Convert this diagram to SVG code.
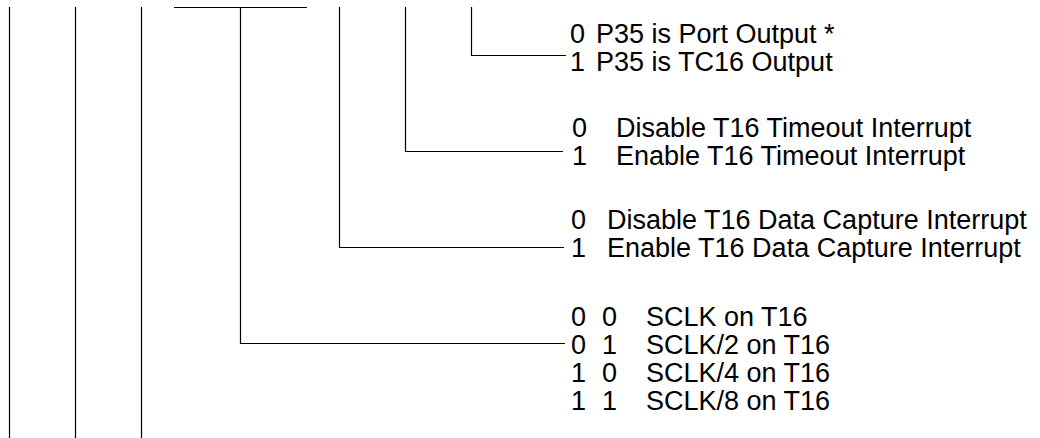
<svg xmlns="http://www.w3.org/2000/svg" width="1040" height="438" viewBox="0 0 1040 438">
<style>
.ln{stroke:#000;stroke-width:1.2;fill:none}
text{font-family:"Liberation Sans",Arial,sans-serif;font-size:27px;fill:#000}
</style>
<rect width="1040" height="438" fill="#fff"/>
<g id="connectors">
<line class="ln" x1="9.5" y1="7" x2="9.5" y2="438"/>
<line class="ln" x1="75.5" y1="7" x2="75.5" y2="438"/>
<line class="ln" x1="141.5" y1="7" x2="141.5" y2="438"/>
<line class="ln" x1="174" y1="7.5" x2="307" y2="7.5"/>
<polyline class="ln" points="240.5,7.5 240.5,343.5 565,343.5"/>
<polyline class="ln" points="339.5,7 339.5,247.5 564,247.5"/>
<polyline class="ln" points="405.5,7 405.5,151.5 563,151.5"/>
<polyline class="ln" points="471.5,7 471.5,55.5 566,55.5"/>
</g>
<g id="node-p35">
<text x="570" y="43">0</text><text x="596" y="43">P35 is Port Output *</text>
<text x="570" y="71">1</text><text x="596" y="71">P35 is TC16 Output</text>
</g>
<g id="node-timeout">
<text x="572" y="137">0</text><text x="616" y="137">Disable T16 Timeout Interrupt</text>
<text x="572" y="165">1</text><text x="616" y="165">Enable T16 Timeout Interrupt</text>
</g>
<g id="node-capture">
<text x="571" y="229">0</text><text x="607" y="229">Disable T16 Data Capture Interrupt</text>
<text x="571" y="257">1</text><text x="607" y="257">Enable T16 Data Capture Interrupt</text>
</g>
<g id="node-sclk">
<text x="571" y="326">0</text><text x="602" y="326">0</text><text x="646" y="326">SCLK on T16</text>
<text x="571" y="354">0</text><text x="602" y="354">1</text><text x="646" y="354">SCLK/2 on T16</text>
<text x="571" y="382">1</text><text x="602" y="382">0</text><text x="646" y="382">SCLK/4 on T16</text>
<text x="571" y="410">1</text><text x="602" y="410">1</text><text x="646" y="410">SCLK/8 on T16</text>
</g>
</svg>
